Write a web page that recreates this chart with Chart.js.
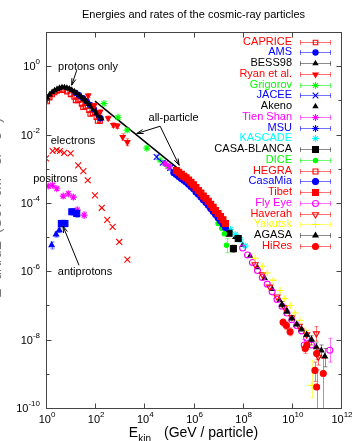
<!DOCTYPE html>
<html><head><meta charset="utf-8">
<script src="https://cdn.jsdelivr.net/npm/chart.js@4.4.1/dist/chart.umd.min.js"></script>
<style>html,body{margin:0;padding:0;background:#fff;overflow:hidden}canvas{display:block}</style>
</head><body>
<canvas id="c" width="360" height="441"></canvas>
<script>
// ---------- data: [E (GeV), flux, errLow, errHigh] ----------
const xTickExponents = ['0','2','4','6','8','10','12'];
const yTickExponents = ['-10','-9','-8','-7','-6','-5','-4','-3','-2','-1','0','1'];
const yLabelledExponents = ['-10','-8','-6','-4','-2','0'];

const caprice = [[1.12,0.093,0.085,0.1],[1.41,0.12,0.11,0.13],[1.78,0.148,0.136,0.16],[2.24,0.17,0.156,0.184],[2.82,0.19,0.175,0.205],[3.55,0.2,0.184,0.216],[5.0,0.2,0.184,0.216],[7.1,0.18,0.165,0.195],[10,0.15,0.137,0.163],[14,0.126,0.114,0.138],[16,0.1,0.09,0.11],[20,0.1,0.09,0.11],[28,0.079,0.071,0.087],[32,0.063,0.056,0.07],[40,0.066,0.059,0.073],[56,0.052,0.046,0.058],[63,0.04,0.035,0.045],[79,0.042,0.037,0.047],[112,0.032,0.028,0.036],[126,0.025,0.022,0.028],[158,0.025,0.021,0.029]];
const ams = [[16,0.166],[22,0.141],[32,0.117],[45,0.095],[63,0.074],[89,0.055],[126,0.04],[166,0.03]];
const bess98 = [[0.9,0.1],[1.12,0.12],[1.41,0.148],[1.78,0.174],[2.24,0.195],[2.82,0.214],[3.55,0.229],[4.47,0.24],[5.62,0.24],[7.08,0.232],[8.91,0.219],[11.2,0.2],[14.1,0.182],[17.8,0.162],[22.4,0.141],[28.2,0.123],[35.5,0.107],[44.7,0.091],[56.2,0.078],[70.8,0.066],[89.1,0.054],[112,0.043],[141,0.035],[178,0.029]];
const ryan = [[52,0.138,0.12,0.158],[93,0.072,0.063,0.082],[158,0.046,0.04,0.053],[339,0.03,0.026,0.035],[550,0.019,0.016,0.022],[794,0.018,0.015,0.021],[1320,0.0085,0.0068,0.0105],[2040,0.006,0.0047,0.0075]];
const grigorov = [[229,0.081],[851,0.032],[2000,0.0135],[12600,0.004],[43600,0.0018],[91000,0.00117]];
const jacee = [[31600,0.0022,0.0019,0.0025],[56000,0.0015,0.0013,0.0017],[112000,0.00105,0.0009,0.0012],[224000,0.00076,0.00065,0.00088]];
const akeno = [[2.5e7,1.5e-5],[5e7,1e-5],[1e8,5.8e-6],[2e8,2.8e-6],[4e8,1.3e-6],[7.9e8,6.3e-7],[1.6e9,3e-7],[3.2e9,1.4e-7],[6.3e9,7.2e-8]];
const tienShan = [[71000,0.0014,0.0012,0.0016],[1e5,0.00117,0.001,0.00134],[4e5,4.8e-4],[1e6,2.8e-4],[3.2e6,1.26e-4]];
const msu = [[3.2e5,5.2e-4],[7.9e5,3.2e-4],[2e6,1.66e-4],[5e6,7.9e-5],[1e7,4.2e-5]];
const kascade = [[2e7,2.2e-5],[3.2e7,1.66e-5],[5e7,1.2e-5],[7.9e7,8.3e-6],[1.26e8,5.5e-6]];
const casaBlanca = [[2.8e7,1.3e-5,1.1e-5,1.5e-5],[4.2e7,4.6e-6,3.6e-6,5.8e-6],[6.6e7,9.1e-6,7.4e-6,1.1e-5]];
const dice = [[1e7,2.5e-5],[1.4e7,1.8e-5],[1.8e7,1.26e-5],[2.2e7,5.8e-6,3.5e-6,8.9e-6]];
const hegra = [[3.2e5,7e-4],[6.3e5,4.5e-4],[1.26e6,2.5e-4],[2.5e6,1.5e-4]];
const casaMia = [[1.58e5,7.6e-4],[2e5,6.8e-4],[2.5e5,5.9e-4],[3.2e5,5.2e-4],[4e5,4.6e-4],[5e5,4.1e-4],[6.3e5,3.5e-4],[7.9e5,3.0e-4],[1e6,2.6e-4],[1.26e6,2.1e-4],[1.58e6,1.8e-4],[2e6,1.48e-4],[2.5e6,1.23e-4],[3.2e6,1.02e-4],[4e6,8.5e-5],[5e6,6.9e-5],[6.3e6,5.6e-5],[7.9e6,4.6e-5],[1e7,3.7e-5],[1.26e7,3.0e-5],[1.58e7,2.4e-5],[2e7,1.9e-5]];
const tibet = [[2e5,8.9e-4],[2.5e5,7.9e-4],[3.2e5,6.9e-4],[4e5,6e-4],[5e5,5.4e-4],[6.3e5,4.7e-4],[7.9e5,4e-4],[1e6,3.4e-4],[1.26e6,2.8e-4],[1.58e6,2.3e-4],[2e6,1.95e-4],[2.5e6,1.6e-4],[3.2e6,1.35e-4],[4e6,1.12e-4],[5e6,9.1e-5],[6.3e6,7.4e-5],[7.9e6,6e-5],[1e7,4.9e-5],[1.26e7,4e-5],[1.58e7,3.2e-5],[2e7,2.5e-5]];
const flyEye = [[1e8,4.8e-6],[1.58e8,3e-6],[2.5e8,1.8e-6],[4e8,1.05e-6],[6.3e8,6.6e-7],[1e9,4.2e-7],[1.58e9,2.5e-7],[2.5e9,1.5e-7],[4e9,9.5e-8],[6.3e9,6e-8],[1e10,3.8e-8],[1.58e10,2.6e-8],[2.5e10,1.8e-8],[3.2e10,7e-9,5e-9,1e-8],[4e10,1.12e-8],[6.3e10,7e-9],[3.5e11,4.9e-9,2.2e-9,1.1e-8]];
const haverah = [[3.2e8,1.58e-6],[6.3e8,8e-7],[1.26e9,3.5e-7],[2.5e9,1.8e-7],[5e9,8.9e-8],[1e10,4.5e-8],[2e10,2.5e-8],[4e10,1.4e-8],[1e11,1.5e-8,9e-9,2.4e-8],[1.2e11,3.1e-9,1.8e-9,5e-9]];
const yakutsk = [[3.2e8,2.4e-6],[6.2e8,1.4e-6],[1e9,8.9e-7],[1.74e9,5.5e-7],[3.3e9,2.75e-7],[5.2e9,1.58e-7],[8.5e9,1e-7],[1.35e10,6e-8],[2.1e10,3.7e-8],[3.5e10,1.86e-8],[6.5e10,4.6e-10,2e-10,2.5e-9]];
const agasa = [[4e9,1.05e-7,8.5e-8,1.3e-7],[6.3e9,6.6e-8],[1e10,4.2e-8],[1.58e10,2.8e-8],[2.5e10,2e-8],[4e10,1.4e-8],[6.3e10,1e-8,7e-9,1.3e-8],[1e11,6e-9,4e-9,8e-9],[1.58e11,4.8e-9,3e-9,7e-9],[2.2e11,3.2e-9,1.6e-9,5.5e-9]];
const hires = [[4.4e9,3.2e-8,2.5e-8,4e-8],[6e9,2.6e-8,2e-8,3.3e-8],[8.5e9,1.7e-8,1.3e-8,2.2e-8],[3.5e10,5.5e-9,4e-9,7.5e-9],[4.1e10,6.8e-9,5.2e-9,8.8e-9],[1.02e11,3.9e-9,2.6e-9,5.6e-9],[8.7e10,1.26e-9,6e-10,2.2e-9],[1.9e11,1.02e-9,1e-11,2.8e-9],[1.02e11,4.1e-10,1e-11,1.3e-9]];

const electrons = [[1.0,2.0e-3],[1.86,3.3e-3],[2.75,3.5e-3],[3.7,3.3e-3],[5.5,2.9e-3],[10,2.8e-3],[20.4,1.26e-3],[33,8.5e-4],[50,4.6e-4],[98,1.66e-4],[186,7.2e-5],[309,3.2e-5],[513,2e-5],[955,7.2e-6],[2040,2.2e-6]];
const positrons = [[1.23,3.1e-4,2.7e-4,3.5e-4],[1.86,3.3e-4,2.9e-4,3.7e-4],[2.75,2.6e-4,2.3e-4,2.9e-4],[5.0,1.58e-4,1.4e-4,1.8e-4],[8.1,1.86e-4,1.6e-4,2.1e-4],[12.9,1.48e-4,1.25e-4,1.7e-4],[18.6,6.2e-5,5e-5,7.5e-5],[35.5,4.4e-5,3.6e-5,5.4e-5]];
const antiprotonSquares = [[4.2,2.5e-5,2e-5,3.1e-5],[5.0,2.5e-5,2e-5,3.1e-5],[5.9,2.5e-5,2e-5,3.1e-5],[11.2,5.5e-5,4.4e-5,6.8e-5],[17.8,4.9e-5,3.8e-5,6.2e-5]];
const antiprotonTriangles = [[1.7,5.8e-6,4.5e-6,7.2e-6],[2.57,1.2e-5,1e-5,1.4e-5],[3.47,1.58e-5,1.35e-5,1.85e-5]];
const allParticleLine = [[98,0.095],[2.8e5,9.1e-4]];

// ---------- styles ----------
const FONT = '"Liberation Sans", Arial, Helvetica, sans-serif';
const TITLE = 'Energies and rates of the cosmic-ray particles';
const legendSeries = [
 {label:'CAPRICE', data:caprice, color:'#ff0000', ps:'rect', r:3.2, open:true, bar:true},
 {label:'AMS', data:ams, color:'#0000ff', ps:'circle', r:2.6, bar:true},
 {label:'BESS98', data:bess98, color:'#000000', ps:'triangle', r:2.6, bar:true, line:3.2},
 {label:'Ryan et al.', data:ryan, color:'#ff0000', ps:'triangle', rot:180, r:3, bar:true},
 {label:'Grigorov', data:grigorov, color:'#00ff00', ps:'star', r:3.5, bar:true},
 {label:'JACEE', data:jacee, color:'#0000ff', ps:'crossRot', r:4, bar:true},
 {label:'Akeno', data:akeno, color:'#000000', ps:'triangle', r:2.6, bar:false},
 {label:'Tien Shan', data:tienShan, color:'#ff00ff', ps:'star', r:3.5, bar:true},
 {label:'MSU', data:msu, color:'#0000ff', ps:'star', r:3.5, bar:true},
 {label:'KASCADE', data:kascade, color:'#00ffff', ps:'star', r:3.5, bar:false},
 {label:'CASA-BLANCA', data:casaBlanca, color:'#000000', ps:'rect', r:4.2, bar:true},
 {label:'DICE', data:dice, color:'#00ff00', ps:'circle', r:2.2, bar:true},
 {label:'HEGRA', data:hegra, color:'#ff0000', ps:'rect', r:3.5, open:true, bar:true},
 {label:'CasaMia', data:casaMia, color:'#0000ff', ps:'circle', r:3, bar:true},
 {label:'Tibet', data:tibet, color:'#ff0000', ps:'rect', r:4.2, bar:true},
 {label:'Fly Eye', data:flyEye, color:'#ff00ff', ps:'circle', r:3, open:true, bar:true},
 {label:'Haverah', data:haverah, color:'#ff0000', ps:'triangle', rot:180, r:3.5, open:true, bar:true},
 {label:'Yakutsk', data:yakutsk, color:'#ffff00', ps:'cross', r:3.5, bar:true},
 {label:'AGASA', data:agasa, color:'#000000', ps:'triangle', r:3, bar:true},
 {label:'HiRes', data:hires, color:'#ff0000', ps:'circle', r:3, bar:true}
];
const otherSeries = [
 {label:'electrons', data:electrons, color:'#ff0000', ps:'crossRot', r:4.2},
 {label:'positrons', data:positrons, color:'#ff00ff', ps:'star', r:3.5},
 {label:'antiprotons', data:antiprotonSquares, color:'#0000ff', ps:'rect', r:4.2},
 {label:'antiprotons ', data:antiprotonTriangles, color:'#0000ff', ps:'triangle', r:3},
 {label:'all-particle', data:allParticleLine, color:'#000000', ps:'circle', r:0, line:1.5}
];

function light(hex, a){
  const n=parseInt(hex.slice(1),16);
  return 'rgba('+((n>>16)&255)+','+((n>>8)&255)+','+(n&255)+','+a+')';
}
const all = otherSeries.map(s=>Object.assign({inLegend:false},s)).concat(legendSeries.map(s=>Object.assign({inLegend:true},s)));
const datasets = all.map((s,i)=>({
  label:s.label,
  data:s.data.map(p=>({x:p[0],y:p[1],lo:p[2],hi:p[3]})),
  showLine:!!s.line, borderColor:s.color, borderWidth:s.line||0, tension:0.3,
  pointStyle:s.ps, pointRadius:s.r, pointRotation:s.rot||0,
  pointBorderColor:s.color, pointBackgroundColor:s.open?'rgba(0,0,0,0)':s.color,
  pointBorderWidth:1.1, order:-i,
  inLegend:s.inLegend, legendBar:s.bar, baseColor:s.color, open:!!s.open,
  errColor: s.color==='#000000' ? 'rgba(0,0,0,0.45)' : light(s.color,0.55)
}));

const annotations = {
  texts:[
    {t:'protons only', x:51, y:0.93},
    {t:'all-particle', x:1.55e5, y:0.030},
    {t:'electrons', x:12.6, y:6.4e-3},
    {t:'positrons', x:2.43, y:4.9e-4},
    {t:'antiprotons', x:38.6, y:9.3e-7}
  ],
  arrows:[
    {from:[17.8,0.76], to:[11.1,0.278]},
    {from:[4.4e4,0.0175], to:[4.9e3,0.0107]},
    {from:[4.4e4,0.0175], to:[2.6e5,1.26e-3]},
    {from:[22,1.5e-6], to:[4.9,2.1e-5]}
  ]
};

// ---------- plugins ----------
const errorBars = {
  id:'errorBars',
  beforeDatasetDraw(chart,args){
    const ds = chart.data.datasets[args.index];
    const {ctx, chartArea:a, scales:{x,y}} = chart;
    ctx.save();
    ctx.beginPath(); ctx.rect(a.left,a.top,a.right-a.left,a.bottom-a.top); ctx.clip();
    ctx.strokeStyle = ds.errColor; ctx.lineWidth = 1;
    ds.data.forEach(p=>{
      if(p.lo===undefined) return;
      const px = Math.round(x.getPixelForValue(p.x))+0.5;
      const y1 = y.getPixelForValue(p.lo), y2 = y.getPixelForValue(p.hi);
      ctx.beginPath();
      ctx.moveTo(px,y1); ctx.lineTo(px,y2);
      ctx.moveTo(px-2,y1); ctx.lineTo(px+2,y1);
      ctx.moveTo(px-2,y2); ctx.lineTo(px+2,y2);
      ctx.stroke();
    });
    ctx.restore();
  }
};

function drawPow(ctx, exp, x, y, align){
  ctx.font = '11px '+FONT; const w1 = ctx.measureText('10').width;
  ctx.font = '8px '+FONT; const w2 = ctx.measureText(exp).width;
  const x0 = align==='right' ? x-w1-w2 : x-(w1+w2)/2;
  ctx.textAlign='left'; ctx.textBaseline='middle'; ctx.fillStyle='#000';
  ctx.font = '11px '+FONT; ctx.fillText('10', x0, y);
  ctx.font = '8px '+FONT; ctx.fillText(exp, x0+w1, y-5);
}

const frame = {
  id:'frame',
  afterDraw(chart){
    const {ctx, chartArea:a, scales:{x,y}} = chart;
    ctx.save();
    // title, centred over the plot area
    ctx.fillStyle='#000'; ctx.font='11px '+FONT; ctx.textAlign='center'; ctx.textBaseline='middle';
    ctx.fillText(TITLE, (a.left+a.right)/2, a.top-17);
    ctx.strokeStyle='#444'; ctx.lineWidth=1;
    const L=Math.round(a.left)+0.5, R=Math.round(a.right)+0.5, T=Math.round(a.top)+0.5, B=Math.round(a.bottom)+0.5;
    ctx.strokeRect(L,T,R-L,B-T);
    ctx.beginPath();
    yTickExponents.forEach(e=>{
      const py = Math.round(y.getPixelForValue(Math.pow(10,+e)))+0.5;
      const len = (+e)%2===0 ? 5 : 3;
      ctx.moveTo(L,py); ctx.lineTo(L+len,py);
      ctx.moveTo(R,py); ctx.lineTo(R-len,py);
    });
    xTickExponents.forEach(e=>{
      const px = Math.round(x.getPixelForValue(Math.pow(10,+e)))+0.5;
      ctx.moveTo(px,B); ctx.lineTo(px,B-5);
      ctx.moveTo(px,T); ctx.lineTo(px,T+5);
    });
    ctx.stroke();
    yLabelledExponents.forEach(e=>drawPow(ctx, e, a.left-6, y.getPixelForValue(Math.pow(10,+e))+1, 'right'));
    xTickExponents.forEach(e=>drawPow(ctx, e, x.getPixelForValue(Math.pow(10,+e))+1, a.bottom+12, 'center'));
    // x axis title
    ctx.fillStyle='#000'; ctx.textBaseline='middle'; ctx.textAlign='left';
    const cx=(a.left+a.right)/2, cy=a.bottom+25;
    ctx.font='14px '+FONT; const wE=ctx.measureText('E').width; const wP=ctx.measureText('(GeV / particle)').width;
    ctx.font='10px '+FONT; const wk=ctx.measureText('kin').width;
    let sx = cx-(wE+wk+13+wP)/2;
    ctx.font='14px '+FONT; ctx.fillText('E', sx, cy);
    ctx.font='10px '+FONT; ctx.fillText('kin', sx+wE, cy+6);
    ctx.font='14px '+FONT; ctx.fillText('(GeV / particle)', sx+wE+wk+13, cy);
    // y axis title (mostly outside the picture, as in the original)
    ctx.save(); ctx.translate(0.6,(a.top+a.bottom)/2-12); ctx.rotate(-Math.PI/2);
    ctx.textAlign='center'; ctx.textBaseline='alphabetic'; ctx.font='14px '+FONT; ctx.fillStyle='#777';
    ctx.fillText('E\u00b2 dN/dE  (GeV cm\u207b\u00b2 sr\u207b\u00b9 s\u207b\u00b9)',0,0);
    ctx.restore();
    // annotations
    ctx.font='11px '+FONT; ctx.textAlign='center'; ctx.textBaseline='middle'; ctx.fillStyle='#000';
    annotations.texts.forEach(t=>ctx.fillText(t.t, x.getPixelForValue(t.x), y.getPixelForValue(t.y)));
    ctx.strokeStyle='#000'; ctx.lineWidth=1;
    annotations.arrows.forEach(ar=>{
      const x1=x.getPixelForValue(ar.from[0]), y1=y.getPixelForValue(ar.from[1]);
      const x2=x.getPixelForValue(ar.to[0]), y2=y.getPixelForValue(ar.to[1]);
      const ang=Math.atan2(y2-y1,x2-x1), h=7, s=0.3;
      ctx.beginPath(); ctx.moveTo(x1,y1); ctx.lineTo(x2,y2);
      ctx.moveTo(x2-h*Math.cos(ang-s), y2-h*Math.sin(ang-s)); ctx.lineTo(x2,y2);
      ctx.lineTo(x2-h*Math.cos(ang+s), y2-h*Math.sin(ang+s));
      ctx.stroke();
    });
    // legend
    const items = chart.data.datasets.filter(d=>d.inLegend);
    items.forEach((d,i)=>{
      const ry = a.top+9.7+i*10.74;
      ctx.font='11px '+FONT; ctx.textAlign='right'; ctx.textBaseline='middle';
      ctx.fillStyle=d.baseColor; ctx.fillText(d.label, a.right-49, ry);
      const x0=a.right-41, x1=a.right-10, mx=a.right-25.5;
      if(d.legendBar){
        ctx.strokeStyle=d.errColor; ctx.lineWidth=1; ctx.beginPath();
        const yy=Math.round(ry)+0.5;
        ctx.moveTo(x0,yy); ctx.lineTo(x1,yy);
        ctx.moveTo(x0+0.5,yy-2.5); ctx.lineTo(x0+0.5,yy+2.5);
        ctx.moveTo(x1-0.5,yy-2.5); ctx.lineTo(x1-0.5,yy+2.5);
        ctx.stroke();
      }
      ctx.strokeStyle=d.baseColor; ctx.fillStyle=d.open?'rgba(0,0,0,0)':d.baseColor; ctx.lineWidth=1.1;
      Chart.helpers.drawPoint(ctx,{pointStyle:d.pointStyle, radius:d.pointRadius, rotation:d.pointRotation, borderWidth:1.1}, mx, Math.round(ry)+0.5);
    });
    ctx.restore();
  }
};

new Chart(document.getElementById('c'), {
  type:'scatter',
  data:{datasets},
  options:{
    responsive:false, animation:false, devicePixelRatio:1, events:[],
    layout:{padding:{left:0,right:19,top:32,bottom:0}},
    plugins:{ legend:{display:false}, tooltip:{enabled:false}, title:{display:false} },
    scales:{
      x:{type:'logarithmic', min:1, max:1e12, grid:{display:false}, border:{display:false},
         ticks:{display:false}, afterFit(s){s.height=33;}},
      y:{type:'logarithmic', min:1e-10, max:10, grid:{display:false}, border:{display:false},
         ticks:{display:false}, afterFit(s){s.width=46;}}
    }
  },
  plugins:[errorBars, frame]
});
</script></body></html>
